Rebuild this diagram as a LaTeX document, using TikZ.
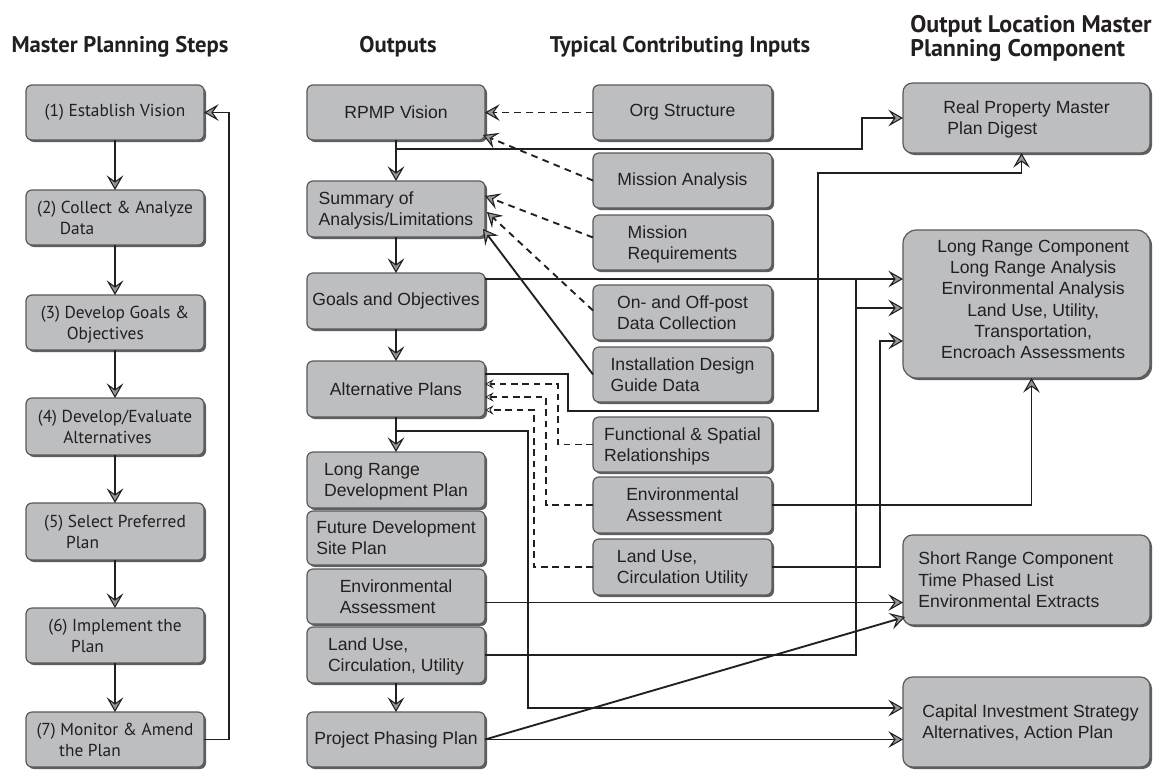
\documentclass[tikz,border=0pt]{standalone}
\usepackage{fontspec}
\setmainfont{Liberation Sans}
\newfontfamily\myr{PT Sans}
\usetikzlibrary{arrows.meta,shadows,calc}
\definecolor{boxfill}{RGB}{188,190,192}
\definecolor{boxdraw}{RGB}{88,89,91}
\definecolor{shadowc}{RGB}{95,95,98}
\definecolor{ink}{RGB}{35,31,32}
\definecolor{tipfill}{RGB}{150,151,153}
\newcommand\lft[1]{\raisebox{-1.5pt}[\height][\depth]{\begin{tabular}{@{}l@{}}#1\end{tabular}}}
\newcommand\ctr[1]{\raisebox{2.2pt}[\height][\depth]{\begin{tabular}{@{}c@{}}#1\end{tabular}}}
\begin{document}
\begin{tikzpicture}[x=0.75pt,y=-0.75pt,
  box/.style={draw=boxdraw, line width=0.9pt, fill=boxfill, rounded corners=4.5pt, inner sep=0pt, outer sep=0pt,
    text=ink, font=\fontsize{13.2}{16}\selectfont,
    drop shadow={shadow xshift=1.5pt, shadow yshift=-1.5pt, fill=shadowc, opacity=1}},
  lbox/.style={box, minimum width=133.5pt, font=\myr\fontsize{13}{15.75}\selectfont},
  obox/.style={box, minimum width=133.5pt},
  ibox/.style={box, minimum width=134.25pt},
  rbox/.style={box, minimum width=185.25pt, rounded corners=7pt},
  hd/.style={text=ink, font=\myr\bfseries\fontsize{17}{17.5}\selectfont, inner sep=0pt},
  ln/.style={line width=1.4pt, draw=ink},
  arr/.style={ln, -{Stealth[length=11pt, width=12.5pt, inset=4.5pt, fill=tipfill, line width=0.8pt]}},
  darr/.style={arr, dash pattern=on 5pt off 4pt},
  sdarr/.style={ln, dash pattern=on 5pt off 3.5pt, -{Stealth[length=6.5pt, width=7pt, inset=2.5pt, fill=white, line width=0.6pt]}}
]
\fill[white] (0,0) rectangle (1153,769);
\useasboundingbox (0,0) rectangle (1153,769);

% headers
\node[hd] (h1) at (120,47) {Master Planning Steps};
\node[hd] (h2) at (398,47) {Outputs};
\node[hd] (h3) at (680,47) {Typical Contributing Inputs};
\node[hd, anchor=west, font=\myr\bfseries\fontsize{18}{17.25}\selectfont] (h4) at (910,39.5) {\begin{tabular}{@{}l@{}}Output Location Master\\Planning Component\end{tabular}};

% left column
\node[lbox, minimum height=41.25pt] (l1) at (115,112.5) {(1) Establish Vision};
\node[lbox, minimum height=41.25pt] (l2) at (115,217.5) {\lft{(2) Collect \& Analyze\\\hspace*{17pt}Data}};
\node[lbox, minimum height=41.25pt] (l3) at (115,322.5) {\lft{(3) Develop Goals \&\\\hspace*{19.5pt}Objectives}};
\node[lbox, minimum height=42.75pt] (l4) at (115,426.5) {\lft{(4) Develop/Evaluate\\\hspace*{19pt}Alternatives}};
\node[lbox, minimum height=42.75pt] (l5) at (115,531.5) {\lft{(5) Select Preferred\\\hspace*{16.5pt}Plan}};
\node[lbox, minimum height=41.25pt] (l6) at (115,635.5) {\lft{(6) Implement the\\\hspace*{17pt}Plan}};
\node[lbox, minimum height=41.25pt] (l7) at (115,739.5) {\lft{(7) Monitor \& Amend\\\hspace*{17pt}the Plan}};

% outputs
\node[obox, minimum height=41.25pt] (rpmp) at (396,112.5) {RPMP Vision};
\node[obox, minimum height=42pt] (sum) at (396,209) {\lft{Summary of\\Analysis/Limitations}};
\node[obox, minimum height=42pt] (goals) at (396,301) {Goals and Objectives};
\node[obox, minimum height=42pt] (alt) at (396,389) {Alternative Plans};
\node[obox, minimum height=42pt] (lrd) at (396,480) {\lft{Long Range\\Development Plan}};
\node[obox, minimum height=40.5pt] (fdsp) at (396,538) {\lft{Future Development\\Site Plan}};
\node[obox, minimum height=41.25pt] (envo) at (396,596.5) {\lft{Environmental\\Assessment}};
\node[obox, minimum height=42pt] (luo) at (396,655) {\lft{Land Use,\\Circulation, Utility}};
\node[obox, minimum height=41.25pt] (ppp) at (396,739.5) {Project Phasing Plan};

% inputs
\node[ibox, minimum height=41.25pt] (org) at (682.5,112.5) {Org Structure};
\node[ibox, minimum height=41.25pt] (ma) at (682.5,180.5) {Mission Analysis};
\node[ibox, minimum height=41.25pt] (mr) at (682.5,242.5) {\lft{Mission\\Requirements}};
\node[ibox, minimum height=41.25pt] (oo) at (682.5,312.5) {\lft{On- and Off-post\\Data Collection}};
\node[ibox, minimum height=41.25pt] (idg) at (682.5,374.5) {\lft{Installation Design\\Guide Data}};
\node[ibox, minimum height=41.25pt] (fs) at (682.5,444.5) {\lft{Functional \& Spatial\\Relationships}};
\node[ibox, minimum height=42pt] (envi) at (682.5,505) {\lft{Environmental\\Assessment}};
\node[ibox, minimum height=42pt] (lui) at (682.5,567) {\lft{Land Use,\\Circulation Utility}};

% output locations
\node[rbox, minimum height=52.5pt] (rpd) at (1026.5,118) {\lft{Real Property Master\\\hspace*{3pt}Plan Digest}};
\node[rbox, rounded corners=10pt, minimum height=111pt] (lrc) at (1026.5,304) {\hspace*{10pt}\ctr{Long Range Component\\Long Range Analysis\\Environmental Analysis\\Land Use, Utility,\\Transportation,\\Encroach Assessments}};
\node[rbox, minimum height=67.5pt] (src) at (1026.5,580) {\lft{Short Range Component\\Time Phased List\\Environmental Extracts}\hspace*{16pt}};
\node[rbox, minimum height=67.5pt] (cis) at (1026.5,722) {\hspace*{6pt}\lft{Capital Investment Strategy\\Alternatives, Action Plan}};

% left column connectors
\foreach \a/\b in {l1/l2,l2/l3,l3/l4,l4/l5,l5/l6,l6/l7} \draw[arr] (\a.south) -- (\b.north);
\draw[arr] (l7.east) -- ++(25,0) |- (l1.east);

% outputs vertical
\draw[arr] (rpmp.south) -- (sum.north);
\draw[arr] (sum.south) -- (goals.north);
\draw[arr] (goals.south) -- (alt.north);
\draw[arr] (alt.south) -- (lrd.north);
\draw[arr] (luo.south) -- (ppp.north);

% RPMP vision -> digest
\coordinate (b1) at ($(rpmp.south)+(0,9)$);
\coordinate (k1) at (862,149);
\draw[arr] (b1) -- (k1) |- (rpd.west);

% inputs -> vision / summary
\draw[darr] (org.west) -- (rpmp.east);
\draw[darr] (ma.west) -- ($(rpmp.south east)+(-2,-5)$);
\draw[darr] ($(mr.west)+(0,-5)$) -- ($(sum.east)+(0,-13)$);
\draw[darr] ($(oo.west)+(0,-2)$) -- ($(sum.east)+(2,3)$);
\draw[arr] (idg.west) -- ($(sum.east)+(-2,20)$);

% goals -> long range
\coordinate (g1) at ($(goals.north east)+(0,6)$);
\draw[arr] (g1) -- (g1 -| lrc.west);

% land use (outputs) -> long range
\coordinate (j1) at (856,279);
\coordinate (j2) at (856,308);
\draw[ln] (luo.east) -| (j1);
\draw[arr] (j2) -- (j2 -| lrc.west);

% land use (inputs) -> long range
\coordinate (j3) at (880,341);
\draw[arr] (lui.east) -| (j3) -- (j3 -| lrc.west);

% environmental (inputs) -> long range
\draw[arr] (envi.east) -| ($(lrc.south)+(5,0)$);

% alternative plans -> digest
\coordinate (a1) at ($(alt.north east)+(0,13)$);
\coordinate (a2) at (568,374);
\coordinate (a3) at (568,411);
\coordinate (a4) at (818,411);
\coordinate (a5) at (818,173);
\draw[arr] (a1) -- (a2) -- (a3) -- (a4) -- (a5) -| ($(rpd.south)+(-5,0)$);

% dashed inputs -> alternative plans
\coordinate (d1) at (558,384);
\coordinate (d2) at (546,397);
\coordinate (d3) at (534,410);
\draw[sdarr] (fs.west) -| (d1) -- (d1 -| alt.east);
\draw[sdarr] (envi.west) -| (d2) -- (d2 -| alt.east);
\draw[sdarr] (lui.west) -| (d3) -- (d3 -| alt.east);

% alternative plans -> capital investment
\coordinate (b2) at ($(alt.south)+(0,14)$);
\coordinate (k2) at (528,431);
\coordinate (c1) at ($(cis.north west)+(0,31)$);
\draw[arr] (b2) -- (k2) |- (c1);

% environmental (outputs) -> short range
\coordinate (e1) at ($(envo.east)+(0,6)$);
\draw[arr] (e1) -- (e1 -| src.west);

% project phasing -> capital, short range
\draw[arr] (ppp.east) -- (ppp.east -| cis.west);
\draw[arr] (ppp.east) -- ($(src.south west)+(2,-8)$);
\end{tikzpicture}
\end{document}
